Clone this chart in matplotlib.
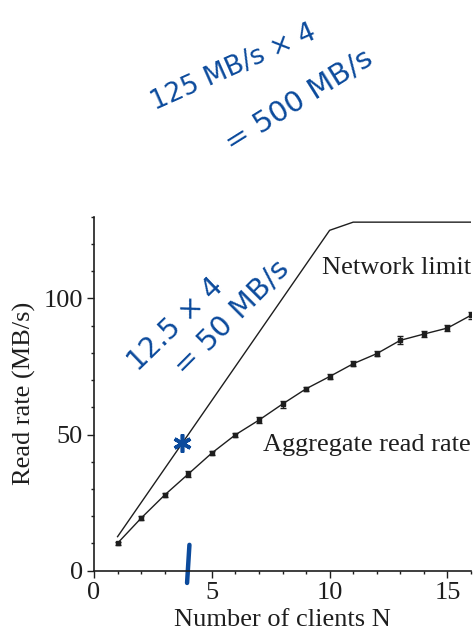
import matplotlib
matplotlib.use("Agg")
import matplotlib.pyplot as plt
from matplotlib.ticker import MultipleLocator

# ---- data ----
clients = [1, 2, 3, 4, 5, 6, 7, 8, 9, 10, 11, 12, 13, 14, 15, 16]
aggregate_rate = [10.1, 19.3, 27.8, 35.5, 43.2, 49.9, 55.3, 61.2, 66.8, 71.3,
                  76.0, 79.7, 84.6, 86.9, 89.1, 93.8]
aggregate_err = [0.5, 0.8, 0.8, 1.0, 0.8, 0.8, 1.0, 1.3, 0.8, 0.8,
                 1.0, 0.8, 1.5, 1.0, 1.0, 1.3]
limit_clients = [1, 10, 11, 16]
network_limit = [12.5, 125.0, 128.0, 128.0]
x_major = [0, 5, 10, 15]
y_major = [0, 50, 100]
label_network = "Network limit"
label_aggregate = "Aggregate read rate"
xlabel = "Number of clients N"
ylabel = "Read rate (MB/s)"
note1a = "125 MB/s × 4"
note1b = "= 500 MB/s"
note2a = "12.5 × 4"
note2b = "= 50 MB/s"
star_point = (3.73, 46.8)
mark_x = [4.05, 3.95]
mark_y = [9.5, -4.5]

W, H = 475, 633
fig = plt.figure(figsize=(W / 100, H / 100), dpi=100)
ax = fig.add_axes([94 / W, 1 - 570.7 / H, (471 - 94) / W, (570.7 - 216.7) / H])

serif = "Liberation Serif"
ink = "#1e1e1e"
blue = "#0b4a9c"
fs = 19

ax.plot(limit_clients, network_limit, color=ink, lw=1.0)
ax.errorbar(clients, aggregate_rate, yerr=aggregate_err, color=ink, lw=1.0,
            marker="s", markersize=2.2, capsize=2.5, elinewidth=1.0, capthick=1.0)

ax.set_xlim(0, 16)
ax.set_ylim(0, 130)
ax.set_xticks(x_major)
ax.set_yticks(y_major)
ax.xaxis.set_minor_locator(MultipleLocator(1))
ax.yaxis.set_minor_locator(MultipleLocator(10))
for s in ("top", "right"):
    ax.spines[s].set_visible(False)
for s in ("left", "bottom"):
    ax.spines[s].set_linewidth(1.2)
    ax.spines[s].set_color(ink)
ax.tick_params(which="major", direction="out", length=5, width=1.0, pad=3,
               labelsize=fs, colors=ink)
ax.tick_params(which="minor", direction="out", length=2.5, width=1.0, colors=ink)
for lab in ax.get_xticklabels() + ax.get_yticklabels():
    lab.set_fontfamily(serif)

ax.set_xlabel(xlabel, fontsize=fs, family=serif, color=ink, labelpad=4)
ax.set_ylabel(ylabel, fontsize=fs, family=serif, color=ink, labelpad=5)

ax.text(16, 109, label_network, fontsize=fs, family=serif, color=ink,
        ha="right", va="baseline")
ax.text(16, 44.1, label_aggregate, fontsize=fs, family=serif, color=ink,
        ha="right", va="baseline")

# handwritten annotations
def ftext(px, py, s, rot, size=20):
    fig.text(px / W, 1 - py / H, s, rotation=rot, rotation_mode="anchor",
             ha="left", va="baseline", fontsize=size, color=blue,
             family="DejaVu Sans")

ftext(155, 110, note1a, 24, size=19)
ftext(232, 152, note1b, 32, size=21)
ftext(138, 372, note2a, 44)
ftext(184, 376, note2b, 45, size=21)

ax.plot([star_point[0]], [star_point[1]], marker=(6, 2, 0), markersize=13,
        mew=2.6, color=blue, clip_on=False)
ax.plot(mark_x, mark_y, color=blue, lw=3.2, solid_capstyle="round", clip_on=False)

fig.savefig("out.png", dpi=100)
